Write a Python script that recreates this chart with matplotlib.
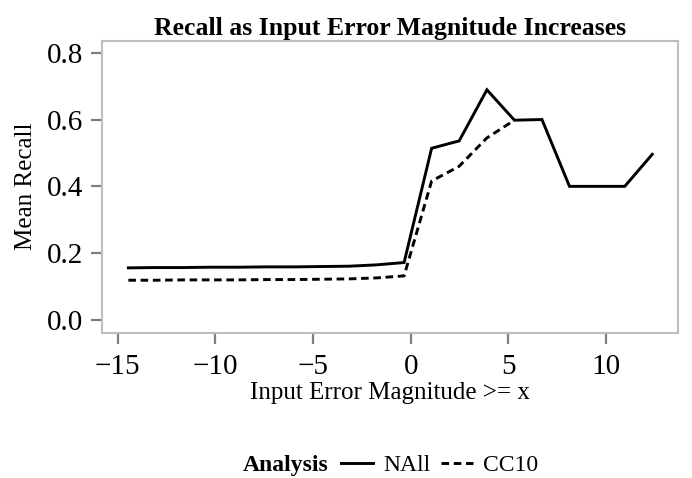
import matplotlib
matplotlib.use('Agg')
import matplotlib.pyplot as plt
from matplotlib.lines import Line2D

plt.rcParams['font.family'] = ['Liberation Serif', 'DejaVu Serif']

# data
magnitude = [-14.46, -13.05, -11.63, -10.22, -8.81, -7.40, -5.99, -4.57, -3.16, -1.75,
             -0.34, 1.07, 2.48, 3.90, 5.31, 6.72, 8.13, 9.55, 10.96, 12.37]
recall_nall = [0.156, 0.157, 0.157, 0.158, 0.158, 0.159, 0.159, 0.160, 0.161, 0.165,
               0.172, 0.514, 0.536, 0.689, 0.598, 0.600, 0.400, 0.400, 0.400, 0.496]
recall_cc10 = [0.119, 0.119, 0.120, 0.120, 0.120, 0.121, 0.121, 0.122, 0.123, 0.126,
               0.132, 0.416, 0.460, 0.545, 0.598]
series_names = ['NAll', 'CC10']

fig = plt.figure(figsize=(6.92, 4.78), dpi=100)
ax = fig.add_axes([0.1474, 0.304, 0.8319, 0.6109])

ax.plot(magnitude, recall_nall, color='black', lw=2.1, solid_joinstyle='miter')
ax.plot(magnitude[:len(recall_cc10)], recall_cc10, color='black', lw=2.1,
        dashes=(2.6, 1.6))

ax.set_xlim(-15.81, 13.67)
ax.set_ylim(-0.038, 0.836)
ax.set_xticks([-15, -10, -5, 0, 5, 10])
ax.set_xticklabels(['\u221215', '\u221210', '\u22125', '0', '5', '10'])
ax.set_yticks([0.0, 0.2, 0.4, 0.6, 0.8])
ax.set_yticklabels(['0.0', '0.2', '0.4', '0.6', '0.8'])

for s in ax.spines.values():
    s.set_color('#bebebe')
    s.set_linewidth(1.5)
ax.tick_params(colors='#7f7f7f', width=1.6, length=8, labelsize=21,
               labelcolor='black')
ax.tick_params(axis='y', pad=5.5)
ax.tick_params(axis='x', pad=7)

ax.set_xlabel('Input Error Magnitude >= x', fontsize=18, labelpad=1.5)
ax.set_ylabel('Mean Recall', fontsize=18, labelpad=7)
ax.set_title('Recall as Input Error Magnitude Increases', fontsize=18.5,
             fontweight='bold', pad=4)

# legend at the bottom, title on the left
fig.text(243 / 692, 0.027, 'Analysis', fontsize=17, fontweight='bold',
         ha='left', va='center')
handles = [Line2D([], [], color='black', lw=2.1),
           Line2D([], [], color='black', lw=2.1, dashes=(2.6, 1.6))]
fig.legend(handles, series_names, loc='center left', bbox_to_anchor=(341 / 692, 0.027),
           ncol=2, frameon=False, fontsize=17, handlelength=1.36,
           handletextpad=0.42, columnspacing=0.45, borderpad=0, borderaxespad=0)

fig.savefig('out.png', dpi=100)
